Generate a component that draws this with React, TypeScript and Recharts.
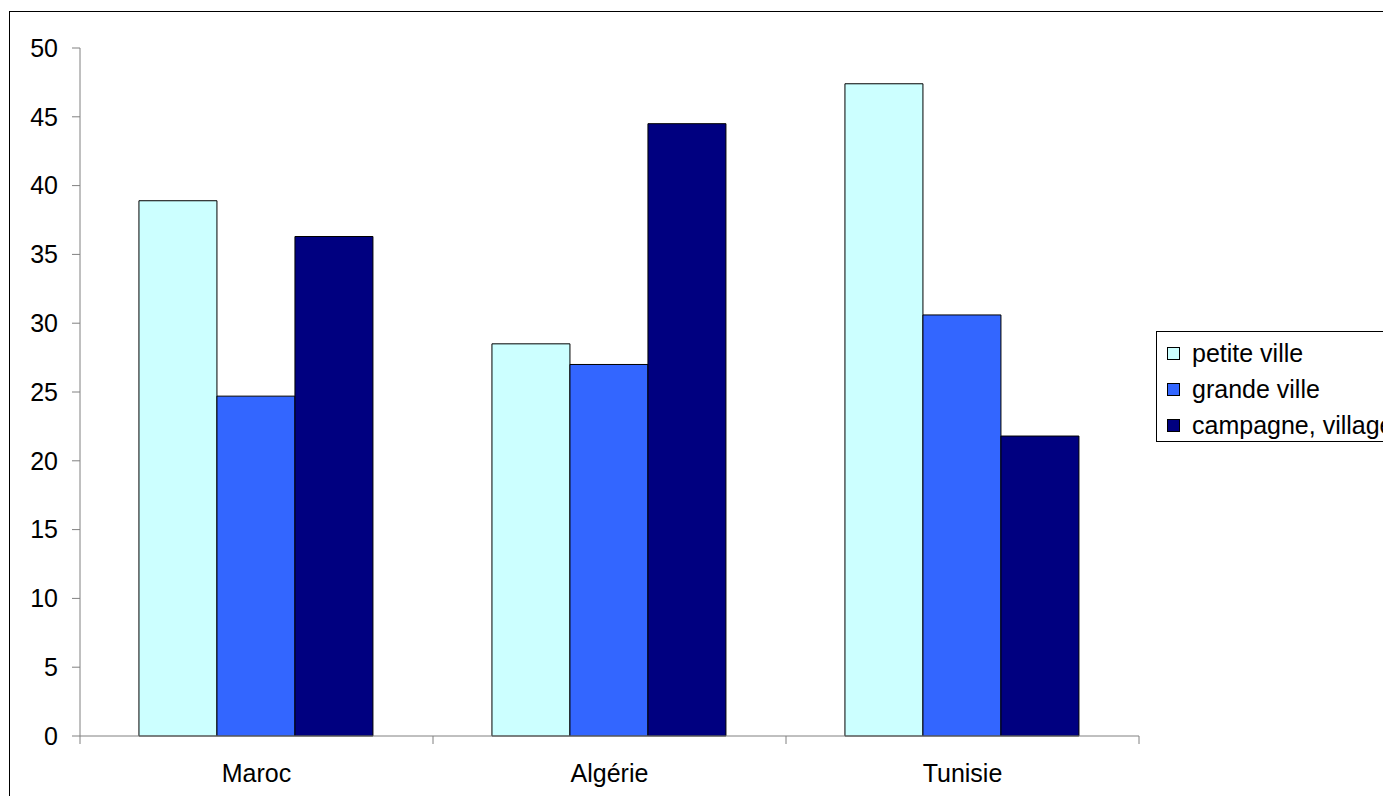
import { BarChart, Bar, XAxis, YAxis } from 'recharts';

const categories = ['Maroc', 'Algérie', 'Tunisie'];
const petiteVille = [38.9, 28.5, 47.4];
const grandeVille = [24.7, 27.0, 30.6];
const campagne = [36.3, 44.5, 21.8];
const yTicks = [0, 5, 10, 15, 20, 25, 30, 35, 40, 45, 50];

const series = [
  { key: 'petite', name: 'petite ville', color: '#CCFFFF', values: petiteVille },
  { key: 'grande', name: 'grande ville', color: '#3366FF', values: grandeVille },
  { key: 'campagne', name: 'campagne, village', color: '#000080', values: campagne },
];

const data = categories.map((cat, i) => {
  const row: Record<string, string | number> = { cat };
  series.forEach((s) => {
    row[s.key] = s.values[i];
  });
  return row;
});

const W = 1391;
const H = 804;
const LEFT = 80;
const RIGHT = 252;
const TOP = 48;
const XAXIS_H = 68;
const FONT = '"Liberation Sans", Arial, sans-serif';
const AXIS = '#808080';
const halfBand = (W - LEFT - RIGHT) / categories.length / 2;

const CategoryTick = (props: any) => {
  const { x, y, payload, index } = props;
  const last = index === categories.length - 1;
  return (
    <g>
      <line x1={x - halfBand} y1={y} x2={x - halfBand} y2={y + 8} stroke={AXIS} />
      {last && <line x1={x + halfBand} y1={y} x2={x + halfBand} y2={y + 8} stroke={AXIS} />}
      <text x={x} y={y + 46} textAnchor="middle" fill="#000" fontSize={25} fontFamily={FONT}>
        {payload.value}
      </text>
    </g>
  );
};

export default function App() {
  return (
    <div style={{ position: 'relative', width: W, height: H, margin: -8, overflow: 'hidden', background: '#fff' }}>
      <div
        style={{
          position: 'absolute',
          left: 9,
          top: 11,
          width: 1500,
          height: 900,
          border: '1px solid #000',
        }}
      />
      <div style={{ position: 'absolute', left: 0, top: 0 }}>
        <BarChart
          width={W}
          height={H}
          data={data}
          margin={{ top: TOP, right: RIGHT, bottom: 0, left: 0 }}
          barCategoryGap="16.7%"
          barGap={0}
        >
          <XAxis
            dataKey="cat"
            height={XAXIS_H}
            stroke={AXIS}
            tickLine={false}
            tickSize={0}
            tickMargin={0}
            tick={<CategoryTick />}
            interval={0}
          />
          <YAxis
            width={LEFT}
            domain={[0, 50]}
            ticks={yTicks}
            stroke={AXIS}
            tickSize={8}
            tickMargin={14}
            tick={{ fill: '#000', fontSize: 25, fontFamily: FONT }}
            interval={0}
          />
          {series.map((s) => (
            <Bar
              key={s.key}
              dataKey={s.key}
              name={s.name}
              fill={s.color}
              stroke="#000"
              strokeWidth={1}
              isAnimationActive={false}
            />
          ))}
        </BarChart>
      </div>
      <div
        style={{
          position: 'absolute',
          left: 1156,
          top: 331,
          width: 280,
          height: 106,
          border: '1px solid #000',
          paddingTop: 3,
          boxSizing: 'content-box',
          fontFamily: FONT,
          fontSize: 25,
          color: '#000',
        }}
      >
        {series.map((s) => (
          <div key={s.key} style={{ height: 36, display: 'flex', alignItems: 'center', whiteSpace: 'nowrap' }}>
            <span
              style={{
                display: 'inline-block',
                width: 11,
                height: 11,
                marginLeft: 10,
                marginRight: 12,
                background: s.color,
                border: '1px solid #000',
              }}
            />
            <span>{s.name}</span>
          </div>
        ))}
      </div>
    </div>
  );
}
